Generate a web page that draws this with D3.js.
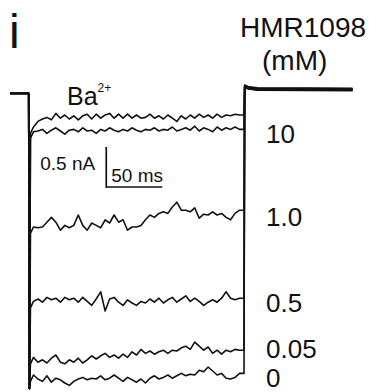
<!DOCTYPE html>
<meta charset="utf-8">
<style>
body { margin: 0; background: #fff; }
svg { display: block; }
text { font-family: "Liberation Sans", Arial, sans-serif; fill: #111; }
.trace { fill: none; stroke: #111; stroke-width: 1.6px; stroke-linejoin: round; }
.bar { stroke: #111; stroke-width: 1.7px; }
</style>
<svg></svg>
<script src="https://d3js.org/d3.v7.min.js"></script>
<script>

var width = 376, height = 392;

// sample times inside the pulse (ms from pulse start)
var timesMs = [4,8,12,16,20,24,28,32,36,40,44,48,52,56,60,64,68,72,76,80,84,88,92,96,
  100,104,108,112,116,120,124,128,132,136,140,144,148,152,156,160,164,168,172,176,180,184,188];

// Ba2+ currents (nA), one trace per HMR1098 concentration
var trace10a = [-0.45,-0.38,-0.35,-0.33,-0.36,-0.28,-0.34,-0.30,-0.35,-0.31,-0.36,-0.31,-0.29,-0.35,-0.29,-0.34,
  -0.30,-0.28,-0.34,-0.29,-0.34,-0.29,-0.34,-0.30,-0.34,-0.33,-0.29,-0.34,-0.31,-0.35,-0.30,-0.34,
  -0.38,-0.31,-0.35,-0.30,-0.34,-0.29,-0.33,-0.30,-0.34,-0.29,-0.33,-0.30,-0.31,-0.29,-0.30];
var trace10b = [-0.51,-0.50,-0.48,-0.53,-0.49,-0.46,-0.50,-0.54,-0.49,-0.48,-0.51,-0.46,-0.50,-0.49,-0.53,-0.48,
  -0.50,-0.46,-0.49,-0.51,-0.48,-0.50,-0.46,-0.49,-0.51,-0.48,-0.49,-0.46,-0.50,-0.48,-0.49,-0.45,
  -0.50,-0.48,-0.46,-0.49,-0.44,-0.50,-0.46,-0.48,-0.51,-0.45,-0.49,-0.46,-0.48,-0.45,-0.48];
var trace1 = [-1.70,-1.71,-1.70,-1.64,-1.58,-1.64,-1.74,-1.68,-1.71,-1.68,-1.55,-1.68,-1.74,-1.65,-1.68,-1.71,
  -1.61,-1.65,-1.55,-1.64,-1.61,-1.74,-1.70,-1.70,-1.68,-1.61,-1.55,-1.58,-1.53,-1.51,-1.53,-1.45,
  -1.39,-1.49,-1.49,-1.51,-1.46,-1.59,-1.54,-1.55,-1.51,-1.55,-1.53,-1.58,-1.61,-1.53,-1.49];
var trace05 = [-2.63,-2.60,-2.64,-2.58,-2.61,-2.59,-2.64,-2.58,-2.61,-2.59,-2.64,-2.58,-2.63,-2.68,-2.60,-2.51,
  -2.75,-2.60,-2.58,-2.64,-2.68,-2.61,-2.65,-2.68,-2.63,-2.65,-2.60,-2.64,-2.59,-2.65,-2.61,-2.58,
  -2.64,-2.60,-2.56,-2.63,-2.59,-2.63,-2.68,-2.64,-2.61,-2.64,-2.59,-2.51,-2.59,-2.61,-2.59];
var trace005 = [-3.33,-3.39,-3.36,-3.40,-3.34,-3.30,-3.39,-3.41,-3.36,-3.39,-3.34,-3.40,-3.36,-3.31,-3.35,-3.31,
  -3.28,-3.33,-3.30,-3.34,-3.29,-3.33,-3.26,-3.30,-3.23,-3.28,-3.25,-3.29,-3.26,-3.24,-3.28,-3.24,
  -3.25,-3.21,-3.19,-3.23,-3.14,-3.19,-3.24,-3.20,-3.28,-3.24,-3.29,-3.24,-3.26,-3.23,-3.24];
var trace0 = [-3.55,-3.60,-3.63,-3.56,-3.64,-3.59,-3.61,-3.65,-3.68,-3.63,-3.60,-3.58,-3.61,-3.59,-3.60,-3.56,
  -3.61,-3.59,-3.55,-3.59,-3.63,-3.58,-3.61,-3.64,-3.60,-3.65,-3.59,-3.56,-3.60,-3.58,-3.55,-3.59,
  -3.56,-3.53,-3.56,-3.54,-3.55,-3.49,-3.51,-3.45,-3.50,-3.55,-3.53,-3.59,-3.60,-3.58,-3.53];

var traces = [trace10a, trace10b, trace1, trace05, trace005, trace0];

// holding current before the pulse, capacitive peak and its decay, tail after the pulse
var preMs = [-17, -0.3];
var preNa = [-0.03, -0.03];
var peakMs = 0.4, peakNa = -3.72;
var settleMs = 1.3, settleNa = -0.08;
var pulseEndMs = 192;
var tailMs = [192.6, 196, 204, 289];
var tailNa = [0.05, 0.03, 0.015, 0.01];
var tailShiftNa = [0, 0.012, -0.006, 0.018, 0.006, 0.024];

var concLabels = ["10", "1.0", "0.5", "0.05", "0"];
var scaleNa = 0.5, scaleMs = 50;

var svg = d3.select("svg")
  .attr("width", width)
  .attr("height", height);

var x = d3.scaleLinear().domain([0, pulseEndMs]).range([29, 244]);
var y = d3.scaleLinear().domain([0, -3.75]).range([91, 391]);

var line = d3.line()
  .x(function(d) { return x(d[0]); })
  .y(function(d) { return y(d[1]); })
  .curve(d3.curveLinear);

svg.append("g")
  .selectAll("path")
  .data(traces)
  .enter().append("path")
  .attr("class", "trace")
  .attr("d", function(v, k) {
    var pts = [];
    preMs.forEach(function(t, i) { pts.push([t, preNa[i]]); });
    pts.push([peakMs, peakNa]);
    // decay runs back up along the step before the trace leaves it
    pts.push([settleMs, v[0] + settleNa]);
    var n = Math.min(v.length, timesMs.length);
    for (var i = 0; i < n; i++) pts.push([timesMs[i], v[i]]);
    pts.push([pulseEndMs, v[n - 1]]);
    tailMs.forEach(function(t, i) { pts.push([t, tailNa[i] + tailShiftNa[k]]); });
    return line(pts);
  });

/* scale bars */
var bar = svg.append("g").attr("transform", "translate(" + x(69) + "," + y(-1.2) + ")");
var barH = y(-scaleNa) - y(0);
var barW = x(scaleMs) - x(0);
bar.append("line").attr("class", "bar")
  .attr("x1", 0).attr("y1", 0.8).attr("x2", 0).attr("y2", -barH);
bar.append("line").attr("class", "bar")
  .attr("x1", 0).attr("y1", 0).attr("x2", barW).attr("y2", 0);
bar.append("text").attr("x", -66).attr("y", -17)
  .style("font-size", "19px").text(scaleNa + " nA");
bar.append("text").attr("x", 5).attr("y", -5)
  .style("font-size", "19px").text(scaleMs + " ms");

/* labels */
svg.append("text").attr("x", 9).attr("y", 48)
  .style("font-size", "48px").text("i");

var ba = svg.append("text").attr("x", 67).attr("y", 105).style("font-size", "25px");
ba.append("tspan").text("Ba");
ba.append("tspan").attr("dy", -13).style("font-size", "12px").text("2+");

svg.append("text").attr("x", 240).attr("y", 37)
  .style("font-size", "28px").text("HMR1098");
svg.append("text").attr("x", 262).attr("y", 70)
  .style("font-size", "28px").text("(mM)");

var labelY = [143, 226, 312, 358, 387];
svg.append("g")
  .selectAll("text")
  .data(concLabels)
  .enter().append("text")
  .attr("x", 266)
  .attr("y", function(d, i) { return labelY[i]; })
  .style("font-size", "26px")
  .text(function(d) { return d; });

</script>
